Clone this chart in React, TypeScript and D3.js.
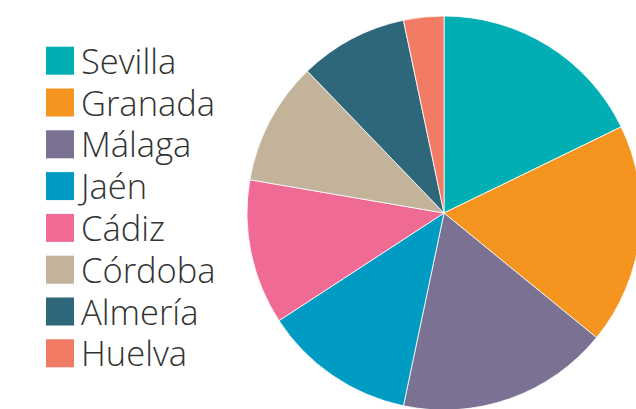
import React, { useEffect, useRef } from 'react';
import * as d3 from 'd3';

const provinces = ['Sevilla', 'Granada', 'Málaga', 'Jaén', 'Cádiz', 'Córdoba', 'Almería', 'Huelva'];
const shares = [17.8, 18.1, 17.4, 12.5, 11.9, 10.1, 8.9, 3.3];
const colors = ['#00aeb3', '#f5951f', '#7b7193', '#009bc3', '#f06b94', '#c2b39a', '#2e6779', '#f27b66'];

const W = 636;
const H = 409;

const App = () => {
  const ref = useRef<SVGSVGElement>(null);

  useEffect(() => {
    const svg = d3.select(ref.current);
    svg.selectAll('*').remove();

    const data = provinces.map((name, i) => ({ name, value: shares[i] }));
    const color = d3.scaleOrdinal<string, string>().domain(provinces).range(colors);

    // pie, starting at 12 o'clock, clockwise, in the data order
    const pie = d3.pie<{ name: string; value: number }>()
      .sort(null)
      .value(d => d.value);
    const arc = d3.arc<d3.PieArcDatum<{ name: string; value: number }>>()
      .innerRadius(0)
      .outerRadius(197);

    const g = svg.append('g').attr('transform', 'translate(444,213)');
    g.selectAll('path')
      .data(pie(data))
      .enter()
      .append('path')
      .attr('d', arc)
      .attr('fill', d => color(d.data.name))
      .attr('stroke', '#ffffff')
      .attr('stroke-width', 0.8);

    // legend
    const rowY = d3.scaleLinear().domain([0, 1]).range([46.7, 88.5]);
    const legend = svg.append('g');
    const rows = legend.selectAll('g')
      .data(provinces)
      .enter()
      .append('g')
      .attr('transform', (d, i) => `translate(46,${rowY(i)})`);
    rows.append('rect')
      .attr('width', 28)
      .attr('height', 28)
      .attr('fill', d => color(d));
    rows.append('text')
      .attr('x', 35)
      .attr('y', 27)
      .attr('font-family', '"Open Sans", sans-serif')
      .attr('font-weight', 300)
      .attr('font-size', 34.5)
      .attr('fill', '#333333')
      .text(d => d);
  }, []);

  return (
    <svg ref={ref} width={W} height={H} style={{ position: 'absolute', left: 0, top: 0, background: '#fff' }} />
  );
};

export default App;
